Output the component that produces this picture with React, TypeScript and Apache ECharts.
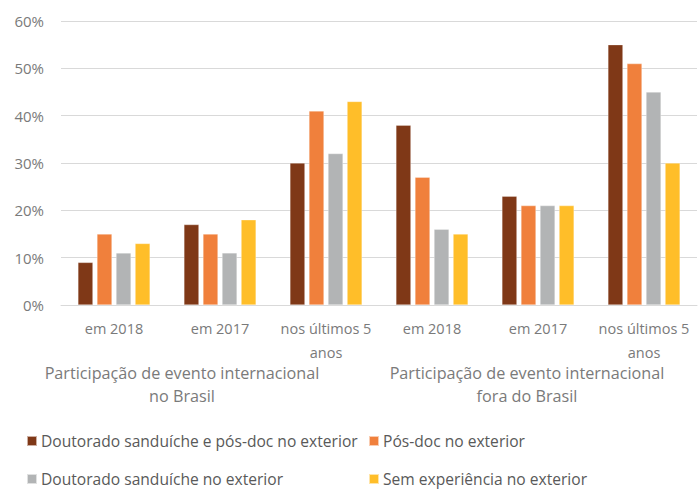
import React, { useEffect, useRef } from "react";
import * as echarts from "echarts";

const categories = ["em 2018", "em 2017", "nos últimos 5\nanos", "em 2018", "em 2017", "nos últimos 5\nanos"];
const groupLabels = ["Participação de evento internacional\nno Brasil", "Participação de evento internacional\nfora do Brasil"];
const seriesNames = [
  "Doutorado sanduíche e pós-doc no exterior",
  "Pós-doc no exterior",
  "Doutorado sanduíche no exterior",
  "Sem experiência no exterior",
];
const sDoutPos = [9, 17, 30, 38, 23, 55];
const sPos = [15, 15, 41, 27, 21, 51];
const sDout = [11, 11, 32, 16, 21, 45];
const sSem = [13, 18, 43, 15, 21, 30];
const colors = ["#7F3817", "#F0803C", "#B2B4B5", "#FFBE29"];
const yTicks = [0, 10, 20, 30, 40, 50, 60];

const FONT = "Open Sans";

export default function App() {
  const ref = useRef<HTMLDivElement>(null);
  useEffect(() => {
    const chart = echarts.init(ref.current!, null, { renderer: "svg" });
    const data = [sDoutPos, sPos, sDout, sSem];
    const legendPos = [
      { left: 26, top: 433 },
      { left: 368, top: 433 },
      { left: 26, top: 471 },
      { left: 368, top: 471 },
    ];
    chart.setOption({
      animation: false,
      grid: { left: 61, right: 3, top: 21, bottom: 184, containLabel: false },
      xAxis: {
        type: "category",
        data: categories,
        axisLine: { show: true, lineStyle: { color: "#d9d9d9", width: 1 } },
        axisTick: { show: false },
        axisLabel: {
          color: "#7a7a7a",
          fontFamily: FONT,
          fontSize: 14.5,
          lineHeight: 24,
          margin: 11,
          interval: 0,
        },
      },
      yAxis: {
        type: "value",
        min: yTicks[0],
        max: yTicks[yTicks.length - 1],
        interval: 10,
        axisLine: { show: false },
        axisTick: { show: false },
        splitLine: { lineStyle: { color: "#d9d9d9", width: 1 } },
        axisLabel: {
          color: "#7a7a7a",
          fontFamily: FONT,
          fontSize: 15,
          margin: 17,
          formatter: (v: number) => v + "%",
        },
      },
      legend: seriesNames.map((n, i) => ({
        data: [n],
        ...legendPos[i],
        orient: "horizontal",
        icon: "rect",
        itemWidth: 10,
        itemHeight: 10,
        itemGap: 0,
        padding: 0,
        textStyle: { color: "#595959", fontFamily: FONT, fontSize: 15.6, padding: [0, 0, 0, -1] },
      })),
      series: seriesNames.map((n, i) => ({
        name: n,
        type: "bar",
        data: data[i],
        barWidth: 15,
        barGap: "27%",
        barCategoryGap: "31%",
        itemStyle: { color: colors[i], borderColor: "rgba(255,255,255,0.6)", borderWidth: 0.5 },
      })),
      graphic: [
        {
          type: "text",
          x: 182,
          y: 361,
          style: {
            text: groupLabels[0],
            fill: "#7a7a7a",
            font: `16.2px "${FONT}"`,
            align: "center",
            lineHeight: 23,
          },
        },
        {
          type: "text",
          x: 527,
          y: 361,
          style: {
            text: groupLabels[1],
            fill: "#7a7a7a",
            font: `16.2px "${FONT}"`,
            align: "center",
            lineHeight: 23,
          },
        },
      ],
    });
    return () => chart.dispose();
  }, []);
  return <div ref={ref} style={{ width: 700, height: 489, position: "absolute", left: 0, top: 0 }} />;
}
